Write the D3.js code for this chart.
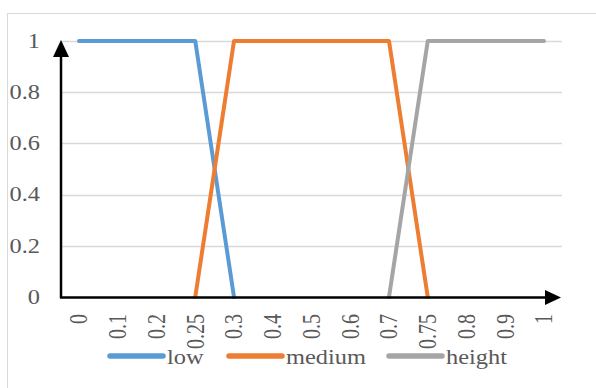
<!DOCTYPE html>
<html><head><meta charset="utf-8">
<script src="https://cdn.jsdelivr.net/npm/d3@7"></script>
<style>body{margin:0;background:#fff}svg{display:block}</style>
</head><body>
<svg id="c" width="596" height="388" font-family="Liberation Serif, serif"></svg>
<script>
const categories = ["0","0.1","0.2","0.25","0.3","0.4","0.5","0.6","0.7","0.75","0.8","0.9","1"];
const low    = [1,1,1,1,0,null,null,null,null,null,null,null,null];
const medium = [null,null,null,0,1,1,1,1,1,0,null,null,null];
const height = [null,null,null,null,null,null,null,null,0,1,1,1,1];
const seriesNames = ["low","medium","height"];
const seriesColors = ["#5B9BD5","#ED7D31","#A5A5A5"];
const yTicks = [0,0.2,0.4,0.6,0.8,1];

const svg = d3.select("#c");
const SX = 1.22, FS = 20, TXT = "#595959";
svg.append("rect").attr("x",7.5).attr("y",13.5).attr("width",620).attr("height",400)
  .attr("fill","none").attr("stroke","#d9d9d9").attr("stroke-width",1);

const x = d3.scalePoint().domain(categories).range([79,544]);
const y = d3.scaleLinear().domain([0,1]).range([297,41]);
const left = 61, right = 562;

svg.append("g").selectAll("line").data(yTicks.filter(d=>d>0)).join("line")
  .attr("x1",left).attr("x2",right).attr("y1",d=>Math.round(y(d))+0.5).attr("y2",d=>Math.round(y(d))+0.5)
  .attr("stroke","#d9d9d9").attr("stroke-width",1.5);

svg.append("g").selectAll("text").data(yTicks).join("text")
  .attr("transform",d=>`translate(40,${y(d)}) scale(${SX},1)`)
  .attr("text-anchor","end").attr("dy","0.34em").attr("font-size",FS).attr("fill",TXT)
  .text(d=>d3.format("~g")(d));

svg.append("g").selectAll("text").data(categories).join("text")
  .attr("transform",d=>`translate(${x(d)},314) scale(${SX},1) rotate(-90)`)
  .attr("text-anchor","end").attr("dy","0.34em").attr("font-size",FS).attr("fill",TXT)
  .text(d=>d);

const series = [low,medium,height];
const line = d3.line().defined(d=>d.v!=null).x(d=>x(d.c)).y(d=>y(d.v));
series.forEach((s,i)=>{
  svg.append("path").datum(s.map((v,j)=>({c:categories[j],v})))
    .attr("d",line).attr("fill","none").attr("stroke",seriesColors[i])
    .attr("stroke-width",4).attr("stroke-linecap","round").attr("stroke-linejoin","round");
});

svg.append("line").attr("x1",left).attr("x2",left).attr("y1",298).attr("y2",55)
  .attr("stroke","#000").attr("stroke-width",2.5);
svg.append("path").attr("d",`M${left},40 L${left-8},57 L${left+8},57 Z`).attr("fill","#000");
svg.append("line").attr("x1",left-1).attr("x2",548).attr("y1",297.5).attr("y2",297.5)
  .attr("stroke","#000").attr("stroke-width",2.5);
svg.append("path").attr("d",`M561,297.5 L545,290 L545,305 Z`).attr("fill","#000");

const legX = [110,229,389];
const lg = svg.append("g");
seriesNames.forEach((n,i)=>{
  lg.append("line").attr("x1",legX[i]).attr("x2",legX[i]+53).attr("y1",356).attr("y2",356)
    .attr("stroke",seriesColors[i]).attr("stroke-width",5.5).attr("stroke-linecap","round");
  lg.append("text").attr("transform",`translate(${legX[i]+57},364) scale(${SX},1)`)
    .attr("font-size",FS).attr("fill",TXT).text(n);
});
</script>
</body></html>
